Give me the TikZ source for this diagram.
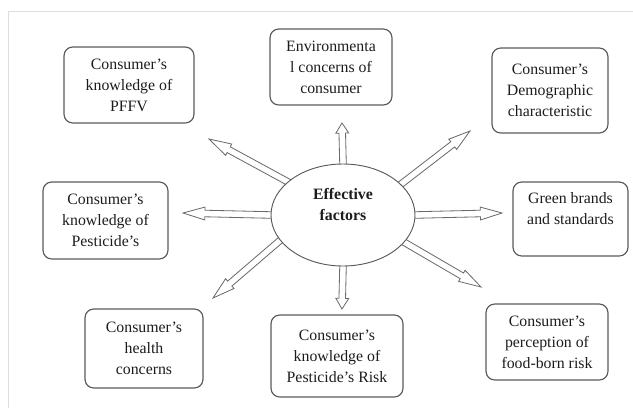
\documentclass[tikz,border=0pt]{standalone}
\usepackage{fontspec}
\setmainfont{Liberation Serif}
\usetikzlibrary{shapes.geometric,calc,backgrounds}
\definecolor{boxline}{HTML}{5A5A5A}
\definecolor{arrowline}{HTML}{6A6A6A}
\definecolor{framegray}{HTML}{DDDDDD}
\definecolor{ink}{HTML}{1C1C1C}
\begin{document}
\begin{tikzpicture}[x=0.03cm, y=-0.03cm,
    factor/.style={draw=boxline, line width=1pt, rounded corners=7.5pt, align=center, inner sep=0pt,
                   text=ink, font=\fontsize{13.5}{17.9}\selectfont},
    hub/.style={ellipse, draw=boxline, line width=0.8pt, fill=white, inner sep=0pt, align=center,
                minimum width=4.32cm, minimum height=3.06cm, text=ink,
                font=\bfseries\fontsize{13.5}{17.9}\selectfont},
    % hollow block arrow from the hub out towards a factor; the back end is tucked under the hub
    fatarrow/.style={draw=arrowline, line width=0.7pt, fill=white, line join=miter,
      to path={let \p1=($(\tikztostart)!-5pt!(\tikztotarget)$),
                   \p2=($(\tikztotarget)!0.25!(\tikztostart)$) in
        ($(\p1)!2.8pt!90:(\tikztotarget)$) -- ($(\p2)!2.8pt!-90:(\p1)$) -- ($(\p2)!5.5pt!-90:(\p1)$)
        -- (\tikztotarget) -- ($(\p2)!5.5pt!90:(\p1)$) -- ($(\p2)!2.8pt!90:(\p1)$)
        -- ($(\p1)!2.8pt!-90:(\tikztotarget)$) -- cycle}}]
  \useasboundingbox (0,0) rectangle (633,408);
  \draw[framegray, line width=0.6pt] (633,11) -- (8,11) -- (8,408);

  % the hub and the eight factors around it
  \node[hub] (ef) at (343,215) {Effective\\factors\\\mbox{}};
  \node[factor, minimum width=3.9cm,  minimum height=2.28cm] (pffv)   at (129,85)    {Consumer's\\knowledge of\\PFFV};
  \node[factor, minimum width=3.66cm, minimum height=2.28cm] (envc)   at (331,67)    {Environmenta\\l concerns of\\consumer};
  \node[factor, minimum width=3.48cm, minimum height=2.55cm] (demo)   at (550,90.5)  {Consumer's\\Demographic\\characteristic};
  \node[factor, minimum width=3.75cm, minimum height=2.31cm] (pest)   at (105.5,220.5) {Consumer's\\knowledge of\\Pesticide's};
  \node[factor, minimum width=3.45cm, minimum height=2.22cm] (green)  at (570.5,219) {Green brands\\and standards\\\mbox{}};
  \node[factor, minimum width=3.54cm, minimum height=2.37cm] (health) at (144,348.5) {Consumer's\\health\\concerns};
  \node[factor, minimum width=3.96cm, minimum height=2.46cm] (risk)   at (337,356)   {Consumer's\\knowledge of\\Pesticide's Risk};
  \node[factor, minimum width=3.66cm, minimum height=2.28cm] (food)   at (547,342)   {Consumer's\\perception of\\food-born risk};

  % arrow tips, short of the boxes
  \coordinate (tpffv)   at (209,139);
  \coordinate (tenvc)   at (342,123);
  \coordinate (tdemo)   at (470,131);
  \coordinate (tpest)   at (183,213);
  \coordinate (tgreen)  at (502,213);
  \coordinate (thealth) at (213,298);
  \coordinate (trisk)   at (342,309);
  \coordinate (tfood)   at (481,287);

  \begin{scope}[on background layer]
    \foreach \ang/\tip in {149/tpffv, 90/tenvc, 28/tdemo, 180/tpest, 0/tgreen, 202/thealth, 270/trisk, -24/tfood}
      \draw[fatarrow] (ef.\ang) to (\tip);
  \end{scope}
\end{tikzpicture}
\end{document}
